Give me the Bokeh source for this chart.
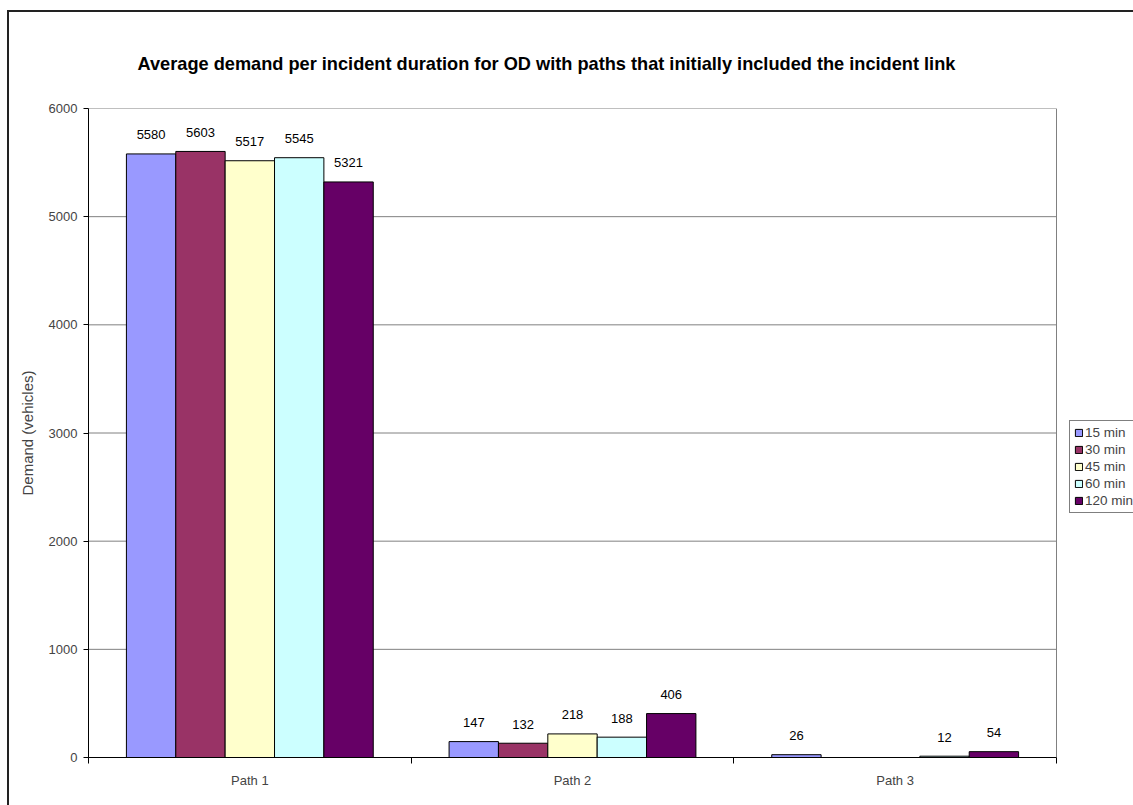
from bokeh.plotting import figure
from bokeh.models import ColumnDataSource, Range1d, FixedTicker, Legend, LegendItem
from bokeh.core.properties import value
from bokeh.embed import file_html
from bokeh.resources import INLINE

# ---- data ----
paths = ["Path 1", "Path 2", "Path 3"]
durations = ["15 min", "30 min", "45 min", "60 min", "120 min"]
d15 = [5580, 147, 26]
d30 = [5603, 132, None]
d45 = [5517, 218, None]
d60 = [5545, 188, 12]
d120 = [5321, 406, 54]
series = [d15, d30, d45, d60, d120]
colors = ["#9999FF", "#993366", "#FFFFCC", "#CCFFFF", "#660066"]
y_ticks = [0, 1000, 2000, 3000, 4000, 5000, 6000]
title = "Average demand per incident duration for OD with paths that initially included the incident link"
y_label = "Demand (vehicles)"

FONT = "Liberation Sans"
bar_w = 0.153
n = len(paths)
# plot area spans 88..1056 px; the canvas continues to 1133 so the legend can sit there
x_end = n * (1133 - 88) / (1056 - 88)

p = figure(width=1133, height=805, x_range=Range1d(0, x_end), y_range=Range1d(0, y_ticks[-1]),
           output_backend="svg", toolbar_location=None,
           min_border_left=88, min_border_right=0, min_border_top=108, min_border_bottom=48)
p.background_fill_color = "white"
p.border_fill_color = "white"
p.border_fill_alpha = 0
p.outline_line_color = None
# outer chart border (Excel-style chart area frame)
p.styles = {
    "background": ("linear-gradient(#222,#222) 7px 10px / 2px 820px no-repeat, "
                   "linear-gradient(#222,#222) 7px 10px / 1140px 2px no-repeat, white"),
}

# title
p.title.text = title
p.title.align = "left"
p.title.offset = 49
p.title.text_font = FONT
p.title.text_font_size = "18.2px"
p.title.text_font_style = "bold"
p.title.text_color = "black"
p.title.standoff = 70

# y axis
p.yaxis.ticker = FixedTicker(ticks=y_ticks)
p.yaxis.axis_label = y_label
p.yaxis.axis_label_text_font = FONT
p.yaxis.axis_label_text_font_size = "15px"
p.yaxis.axis_label_text_font_style = "normal"
p.yaxis.axis_label_standoff = 10
p.yaxis.major_label_text_font = FONT
p.yaxis.major_label_text_font_size = "13px"
p.yaxis.major_label_standoff = 6
p.yaxis.major_tick_out = 5
p.yaxis.major_tick_in = 0
p.yaxis.minor_tick_line_color = None
p.yaxis.axis_line_color = "black"
p.yaxis.major_tick_line_color = "black"

# x axis: labels at group centres, ticks at group boundaries
p.xaxis.bounds = (0, n)
p.xaxis.ticker = FixedTicker(ticks=[i + 0.5 for i in range(n)], minor_ticks=list(range(n + 1)))
p.xaxis.major_label_overrides = {i + 0.5: name for i, name in enumerate(paths)}
p.xaxis.major_tick_line_color = None
p.xaxis.major_tick_out = 6
p.xaxis.minor_tick_out = 6
p.xaxis.minor_tick_in = 0
p.xaxis.minor_tick_line_color = "black"
p.xaxis.major_label_standoff = 9
p.xaxis.major_label_text_font = FONT
p.xaxis.major_label_text_font_size = "13px"
p.xaxis.axis_line_color = "black"

p.xgrid.visible = False
p.ygrid.visible = False
# gridlines (incl. top border) and right border of the plot area
gy = [t for t in y_ticks if t > 0]
p.segment(x0=[0] * len(gy), x1=[n] * len(gy), y0=gy, y1=gy, line_color="#808080", line_width=1)
p.segment(x0=[n], x1=[n], y0=[0], y1=[y_ticks[-1]], line_color="#808080", line_width=1)

items = []
for k, (name, vals, col) in enumerate(zip(durations, series, colors)):
    off = (k - (len(durations) - 1) / 2) * bar_w
    xs = [i + 0.5 + off for i, v in enumerate(vals) if v is not None]
    ys = [v for v in vals if v is not None]
    src = ColumnDataSource(dict(x=xs, top=ys, lab=[str(v) for v in ys]))
    r = p.vbar(x="x", top="top", width=bar_w, bottom=0, source=src,
               fill_color=col, line_color="black", line_width=1)
    p.text(x="x", y="top", text="lab", source=src, text_align="center",
           text_baseline="middle", y_offset=-19, text_font=value(FONT),
           text_font_size="13px", text_color="black")
    items.append(LegendItem(label=name, renderers=[r]))

legend = Legend(items=items, location=(981, 244), orientation="vertical")
legend.label_text_font = FONT
legend.label_text_font_size = "13.5px"
legend.glyph_width = 9
legend.glyph_height = 9
legend.label_height = 13
legend.label_standoff = 2
legend.spacing = 2
legend.padding = 4
legend.margin = 0
legend.border_line_color = "black"
legend.border_line_width = 1
legend.background_fill_color = "white"
legend.background_fill_alpha = 1
p.add_layout(legend)

open("out.html", "w").write(file_html(p, INLINE))
